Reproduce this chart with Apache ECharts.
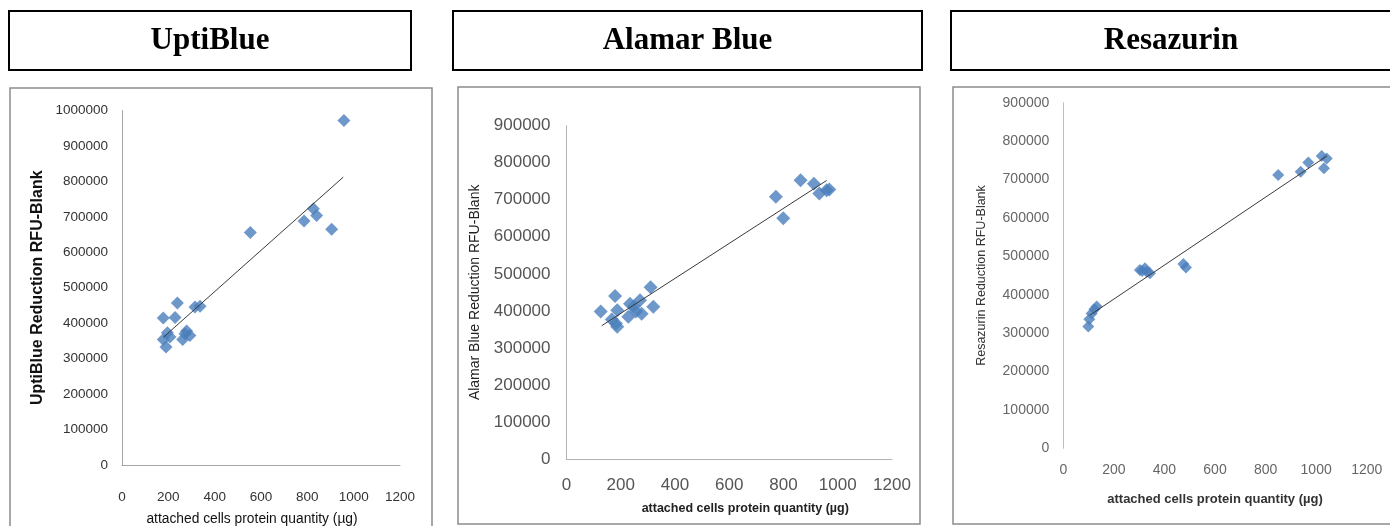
<!DOCTYPE html>
<html>
<head>
<meta charset="utf-8">
<title>UptiBlue / Alamar Blue / Resazurin</title>
<script src="https://cdn.jsdelivr.net/npm/echarts@6/dist/echarts.min.js"></script>
<style>
	html, body { margin: 0; padding: 0; background: #fff; }
	#main { width: 1390px; height: 526px; }
</style>
</head>
<body>
<div id="main"></div>
<script>
// 面板标题
var panelTitles = ['UptiBlue', 'Alamar Blue', 'Resazurin'];
var yNames = ['UptiBlue Reduction RFU-Blank', 'Alamar Blue Reduction RFU-Blank', 'Resazurin Reduction RFU-Blank'];
var xName = 'attached cells protein quantity (µg)';

// x轴刻度
var xTicks = [0, 200, 400, 600, 800, 1000, 1200];
var yMaxUpti = 1000000;
var yMaxOther = 900000;

// UptiBlue 数据
var uptiX = [958, 554, 786, 826, 840, 905, 239, 178, 229, 315, 337, 196, 178, 190, 207, 262, 279, 293, 272];
var uptiY = [972000, 656000, 688000, 723000, 704000, 665000, 457000, 415000, 416000, 446000, 448000, 373000, 354000, 333000, 361000, 354000, 378000, 365000, 370000];
var uptiTrendX = [178, 955];
var uptiTrendY = [360000, 812000];

// Alamar Blue 数据
var alamarX = [126, 179, 187, 167, 187, 228, 234, 271, 256, 277, 310, 320, 772, 799, 863, 912, 932, 959, 969, 182, 248];
var alamarY = [398000, 440000, 402000, 377000, 357000, 384000, 419000, 429000, 398000, 392000, 464000, 411000, 708000, 650000, 753000, 743000, 717000, 726000, 728000, 366000, 412000];
var alamarTrendX = [130, 959];
var alamarTrendY = [360000, 752000];

// Resazurin 数据
var resazX = [99, 103, 112, 123, 132, 303, 323, 330, 343, 312, 475, 485, 850, 939, 969, 1022, 1042, 1031];
var resazY = [317000, 336000, 351000, 362000, 369000, 464000, 469000, 460000, 456000, 462000, 480000, 471000, 712000, 720000, 744000, 761000, 755000, 729000];
var resazTrendX = [106, 1042];
var resazTrendY = [347000, 761000];

var markerColor = '#4A7EBB';
var labelFont = '"Liberation Sans", Arial, sans-serif';

function pairs(xs, ys) {
	var out = [];
	for (var i = 0; i < xs.length; i++) {
		out.push([xs[i], ys[i]]);
	}
	return out;
}

// 不要千位分隔符
function plain(v) {
	return String(v);
}

// 每个面板的布局
var panels = [
	{
		grid: { left: 122, top: 110.5, width: 278, height: 354.5 },
		yMax: yMaxUpti,
		pts: pairs(uptiX, uptiY), trend: pairs(uptiTrendX, uptiTrendY),
		sym: 13, labelSize: 13.5, labelColor: '#333', xMargin: 25, yMargin: 14,
		axisColor: '#a6a6a6', showXLine: true,
		yNameStyle: { fontSize: 16, fontWeight: 'bold', color: '#111' }, yGap: 76,
		xNameStyle: { fontSize: 13.8, fontWeight: 'normal', color: '#111', padding: [0, 18, 0, 0] }, xGap: 47
	},
	{
		grid: { left: 566.5, top: 125.7, width: 325.5, height: 333.3 },
		yMax: yMaxOther,
		pts: pairs(alamarX, alamarY), trend: pairs(alamarTrendX, alamarTrendY),
		sym: 14, labelSize: 17, labelColor: '#555', xMargin: 18, yMargin: 16,
		axisColor: '#b3b3b3', showXLine: true,
		yNameStyle: { fontSize: 14, fontWeight: 'normal', color: '#222' }, yGap: 84,
		xNameStyle: { fontSize: 12.5, fontWeight: 'bold', color: '#222', padding: [0, 0, 0, 32] }, xGap: 43
	},
	{
		grid: { left: 1063.3, top: 102.7, width: 303.4, height: 345.6 },
		yMax: yMaxOther,
		pts: pairs(resazX, resazY), trend: pairs(resazTrendX, resazTrendY),
		sym: 12, labelSize: 14, labelColor: '#666', xMargin: 15, yMargin: 14,
		axisColor: '#bfbfbf', showXLine: false,
		yNameStyle: { fontSize: 12.5, fontWeight: 'normal', color: '#333' }, yGap: 75,
		xNameStyle: { fontSize: 13, fontWeight: 'bold', color: '#333' }, xGap: 45
	}
];

var grids = [], xAxes = [], yAxes = [], series = [];
for (var i = 0; i < panels.length; i++) {
	var p = panels[i];
	// 关掉 v6 的外边界收缩，保持固定像素位置
	grids.push(Object.assign({ containLabel: false, outerBoundsMode: 'none' }, p.grid));
	xAxes.push({
		type: 'value', gridIndex: i, min: xTicks[0], max: xTicks[xTicks.length - 1], interval: 200,
		name: xName, nameLocation: 'middle', nameGap: p.xGap,
		nameTextStyle: Object.assign({ fontFamily: labelFont }, p.xNameStyle),
		axisLine: { show: p.showXLine, lineStyle: { color: p.axisColor, width: 1 } },
		axisTick: { show: false },
		splitLine: { show: false },
		axisLabel: { fontSize: p.labelSize, color: p.labelColor, fontFamily: labelFont, margin: p.xMargin, formatter: plain }
	});
	yAxes.push({
		type: 'value', gridIndex: i, min: 0, max: p.yMax, interval: 100000,
		name: yNames[i], nameLocation: 'middle', nameGap: p.yGap,
		nameTextStyle: Object.assign({ fontFamily: labelFont }, p.yNameStyle),
		axisLine: { show: true, lineStyle: { color: p.axisColor, width: 1 } },
		axisTick: { show: false },
		splitLine: { show: false },
		axisLabel: { fontSize: p.labelSize, color: p.labelColor, fontFamily: labelFont, margin: p.yMargin, formatter: plain }
	});
	series.push({
		type: 'scatter', xAxisIndex: i, yAxisIndex: i,
		symbol: 'diamond', symbolSize: p.sym,
		itemStyle: { color: markerColor },
		data: p.pts
	});
	// 趋势线
	series.push({
		type: 'line', xAxisIndex: i, yAxisIndex: i,
		symbol: 'none', silent: true,
		lineStyle: { color: '#3a3a3a', width: 1 },
		data: p.trend
	});
}

// 标题框和面板边框
var boxes = [
	{ x: 9, y: 11, w: 402, h: 59, cx: 210 },
	{ x: 453, y: 11, w: 469, h: 59, cx: 687.5 },
	{ x: 951, y: 11, w: 440, h: 59, cx: 1171 }
];
var frames = [
	{ x: 10, y: 88, w: 422, h: 460 },
	{ x: 458, y: 87, w: 462, h: 437 },
	{ x: 953, y: 87, w: 450, h: 437 }
];
var graphics = [];
for (var j = 0; j < boxes.length; j++) {
	var b = boxes[j], f = frames[j];
	graphics.push({
		type: 'rect', shape: { x: b.x, y: b.y, width: b.w, height: b.h },
		style: { fill: '#fff', stroke: '#000', lineWidth: 2 }
	});
	graphics.push({
		type: 'text', x: b.cx, y: b.y + b.h / 2,
		style: {
			text: panelTitles[j], align: 'center', verticalAlign: 'middle',
			font: 'bold 31px "Liberation Serif", "Times New Roman", serif', fill: '#000'
		}
	});
	graphics.push({
		type: 'rect', z: -1, shape: { x: f.x, y: f.y, width: f.w, height: f.h },
		style: { fill: 'none', stroke: '#8c8c8c', lineWidth: 1.5 }
	});
}

var chart = echarts.init(document.getElementById('main'), null, { renderer: 'canvas' });
chart.setOption({
	animation: false,
	backgroundColor: '#fff',
	grid: grids,
	xAxis: xAxes,
	yAxis: yAxes,
	series: series,
	graphic: graphics
});
</script>
</body>
</html>
